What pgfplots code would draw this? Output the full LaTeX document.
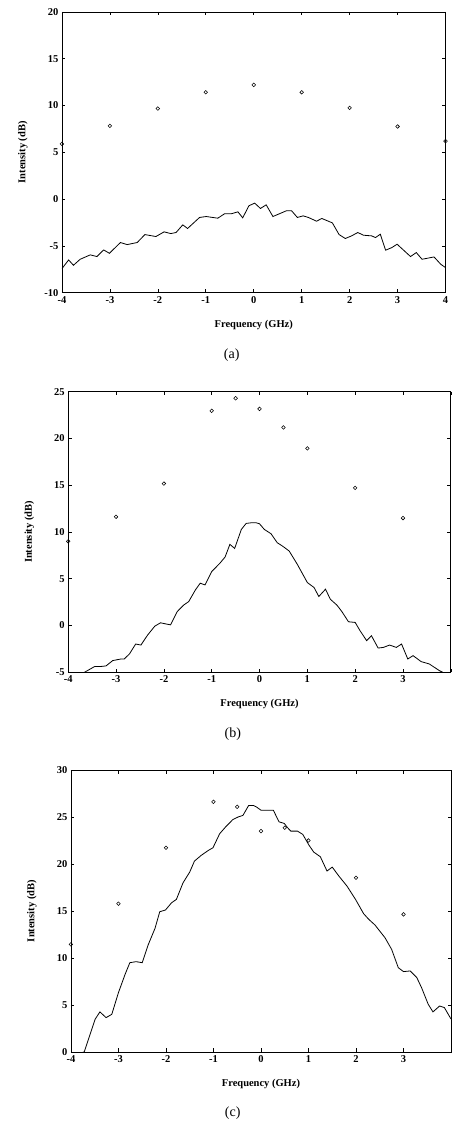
\documentclass[border=0pt]{standalone}
\usepackage{fontspec}
\setmainfont{Liberation Serif}
\usepackage{pgfplots}
\pgfplotsset{compat=1.18}
\pgfplotsset{
  myax/.style={
    scale only axis,
    anchor=south west,
    xmin=-4, xmax=4,
    xtick={-4,-3,-2,-1,0,1,2,3,4},
    tick align=inside,
    major tick length=3.5pt,
    axis line style={line width=0.7pt},
    every tick/.style={line width=0.6pt, black},
    /pgf/number format/assume math mode=true,
    ticklabel style={font=\fontsize{10.5}{12}\selectfont\bfseries},
    label style={font=\fontsize{10.5}{12}\selectfont\bfseries},
    xlabel={Frequency (GHz)},
    ylabel={Intensity (dB)},
    xlabel style={at={(axis description cs:0.5,0)}, anchor=center, yshift=-32pt},
    ylabel style={at={(axis description cs:0,0.5)}, anchor=center, yshift=39pt},
  },
  curve/.style={black, line width=0.8pt, no markers},
  pts/.style={black, only marks, mark=o, mark size=1.8pt, mark options={line width=0.55pt}},
}
\begin{document}
\begin{tikzpicture}
\path (0pt,0pt) rectangle (452pt,1123pt);
% ---------------- (a)
\begin{axis}[myax, at={(62pt,830pt)}, width=384pt, height=281pt,
  ymin=-10, ymax=20, ytick={-10,-5,0,5,10,15,20}]
\addplot[curve] coordinates {
(-4.00,-7.43) (-3.86,-6.50) (-3.76,-7.07) (-3.62,-6.43) (-3.41,-5.96) (-3.27,-6.14)
(-3.13,-5.43) (-3.01,-5.79) (-2.78,-4.64) (-2.64,-4.86) (-2.43,-4.64) (-2.27,-3.79)
(-2.04,-4.00) (-1.87,-3.50) (-1.73,-3.68) (-1.62,-3.57) (-1.48,-2.75) (-1.38,-3.14)
(-1.13,-1.96) (-0.99,-1.86) (-0.75,-2.04) (-0.61,-1.57) (-0.47,-1.57) (-0.33,-1.36)
(-0.23,-2.00) (-0.10,-0.71) (0.02,-0.43) (0.14,-1.00) (0.26,-0.61) (0.40,-1.86)
(0.68,-1.25) (0.79,-1.25) (0.91,-1.96) (1.03,-1.79) (1.14,-1.96) (1.31,-2.36)
(1.42,-2.07) (1.64,-2.54) (1.78,-3.79) (1.91,-4.21) (2.04,-3.93) (2.17,-3.57)
(2.29,-3.86) (2.46,-3.93) (2.54,-4.11) (2.64,-3.75) (2.75,-5.46) (2.88,-5.18)
(2.99,-4.82) (3.27,-6.14) (3.39,-5.71) (3.51,-6.43) (3.76,-6.18) (3.90,-6.96)
(4.00,-7.32)
};
\addplot[pts] coordinates {
(-4,5.9) (-3,7.83) (-2,9.68) (-1,11.42) (0,12.21) (1,11.42) (2,9.75) (3,7.76) (4,6.2)
};
\end{axis}
% ---------------- (b)
\begin{axis}[myax, at={(68.3pt,450pt)}, width=383pt, height=281pt,
  ymin=-5, ymax=25, ytick={-5,0,5,10,15,20,25},
  xticklabels={-4,-3,-2,-1,0,1,2,3,{}}]
\addplot[curve] coordinates {
(-3.85,-5.6) (-3.66,-5.00) (-3.45,-4.39) (-3.34,-4.39) (-3.21,-4.32) (-3.07,-3.75)
(-2.90,-3.58) (-2.83,-3.58) (-2.72,-3.04) (-2.59,-1.98) (-2.48,-2.09) (-2.34,-1.02)
(-2.19,-0.07) (-2.07,0.29) (-1.97,0.18) (-1.86,0.07) (-1.72,1.49) (-1.59,2.17)
(-1.48,2.56) (-1.34,3.81) (-1.24,4.52) (-1.14,4.34) (-1.00,5.76) (-0.83,6.65)
(-0.72,7.32) (-0.62,8.67) (-0.52,8.24) (-0.38,10.27) (-0.28,10.91) (-0.17,10.98)
(-0.07,10.98) (0.00,10.87) (0.10,10.27) (0.24,9.81) (0.37,8.85) (0.48,8.49)
(0.62,7.96) (0.79,6.54) (1.00,4.59) (1.14,4.06) (1.24,3.10) (1.38,3.88)
(1.48,2.81) (1.62,2.17) (1.72,1.50) (1.86,0.40) (2.00,0.33) (2.10,-0.54)
(2.24,-1.62) (2.34,-1.09) (2.48,-2.41) (2.59,-2.34) (2.72,-2.09) (2.86,-2.34)
(2.97,-1.98) (3.10,-3.58) (3.21,-3.22) (3.38,-3.86) (3.55,-4.11) (3.76,-4.82)
(3.83,-5.00) (4.00,-5.6)
};
\addplot[pts] coordinates {
(-4,9.0) (-3,11.62) (-2,15.17) (-1,22.94) (-0.5,24.29) (0,23.15) (0.5,21.17) (1,18.93) (2,14.71) (3,11.48)
};
\end{axis}
% ---------------- (c)
\begin{axis}[myax, at={(71pt,70pt)}, width=380.5pt, height=282pt,
  ymin=0, ymax=30, ytick={0,5,10,15,20,25,30},
  xticklabels={-4,-3,-2,-1,0,1,2,3,{}}]
\addplot[curve] coordinates {
(-4.00,-0.5) (-3.72,0.00) (-3.63,1.35) (-3.49,3.48) (-3.39,4.26) (-3.26,3.65)
(-3.14,4.00) (-3.00,6.31) (-2.86,8.26) (-2.76,9.50) (-2.63,9.61) (-2.50,9.50)
(-2.37,11.45) (-2.23,13.16) (-2.13,14.93) (-2.01,15.11) (-1.88,15.89) (-1.78,16.24)
(-1.64,18.01) (-1.50,19.15) (-1.40,20.32) (-1.26,20.92) (-1.11,21.45) (-1.01,21.74)
(-0.87,23.23) (-0.73,24.04) (-0.59,24.75) (-0.47,25.04) (-0.38,25.18) (-0.26,26.24)
(-0.16,26.24) (-0.10,26.10) (0.00,25.74) (0.10,25.74) (0.26,25.74) (0.38,24.50)
(0.49,24.33) (0.56,23.87) (0.63,23.51) (0.77,23.51) (0.88,23.16) (1.01,22.02)
(1.11,21.28) (1.25,20.78) (1.39,19.26) (1.50,19.68) (1.64,18.72) (1.81,17.66)
(1.99,16.24) (2.16,14.72) (2.27,14.11) (2.40,13.51) (2.61,12.16) (2.75,10.92)
(2.89,8.97) (3.00,8.55) (3.14,8.62) (3.28,7.91) (3.38,6.84) (3.52,5.07)
(3.62,4.26) (3.76,4.89) (3.86,4.72) (3.97,3.76) (4.00,3.5)
};
\addplot[pts] coordinates {
(-4,11.45) (-3,15.78) (-2,21.74) (-1,26.63) (-0.5,26.10) (0,23.51) (0.5,23.87) (1,22.52) (2,18.55) (3,14.65)
};
\end{axis}
\node[font=\fontsize{14}{16}\selectfont] at (232pt,767pt) {(a)};
\node[font=\fontsize{14}{16}\selectfont] at (233pt,388pt) {(b)};
\node[font=\fontsize{14}{16}\selectfont] at (233pt,8.5pt) {(c)};
\end{tikzpicture}
\end{document}
